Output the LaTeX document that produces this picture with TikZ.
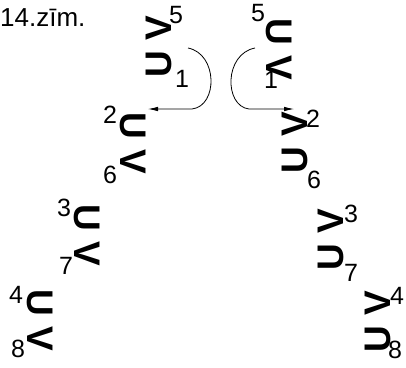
\documentclass[tikz,border=0pt]{standalone}
\usepackage{fontspec}
\setmainfont{Liberation Sans}
\usetikzlibrary{arrows.meta,positioning}

\tikzset{
  pair/.style={font=\fontsize{37}{40}\selectfont\bfseries, inner sep=0pt},
  idx/.style={font=\fontsize{25}{28}\selectfont, inner sep=0pt},
  turn/.style={->, >={Latex[length=10pt,width=4.5pt]}, line width=0.8pt}
}

\begin{document}
\begin{tikzpicture}[x=1pt,y=-1pt]
    \useasboundingbox (0,0) rectangle (406,367);
    \node[font=\fontsize{26}{30}\selectfont, anchor=base west, inner sep=0pt] (title) at (0, 26) {14.zīm.};

    % top pair
    \node[pair, rotate=90] (tl) at (159, 47) {U V};
    \node[idx] (tl5) at (176, 15) {5};
    \node[idx] (tl1) at (182, 79) {1};
    \node[pair, rotate=-90] (tr) at (279, 49) {U V};
    \node[idx] (tr5) at (258, 13) {5};
    \node[idx] (tr1) at (271, 80) {1};

    % left branch
    \node[pair, rotate=-90] (l2) at (133, 143) {U V};
    \node[idx] (l2a) at (110, 115) {2};
    \node[idx] (l2b) at (110, 175) {6};
    \node[pair, rotate=-90] (l3) at (87, 235) {U V};
    \node[idx] (l3a) at (64, 208) {3};
    \node[idx] (l3b) at (66, 266) {7};
    \node[pair, rotate=-90] (l4) at (40, 320) {U V};
    \node[idx] (l4a) at (16, 295) {4};
    \node[idx] (l4b) at (18, 349) {8};

    % right branch
    \node[pair, rotate=90] (r2) at (295, 143) {U V};
    \node[idx] (r2a) at (313, 119) {2};
    \node[idx] (r2b) at (314, 180) {6};
    \node[pair, rotate=90] (r3) at (331, 240) {U V};
    \node[idx] (r3a) at (351, 214) {3};
    \node[idx] (r3b) at (351, 273) {7};
    \node[pair, rotate=90] (r4) at (378, 322) {U V};
    \node[idx] (r4a) at (397, 296) {4};
    \node[idx] (r4b) at (395, 350) {8};

    % turning arrows
    \coordinate (la) at (188, 48);
    \coordinate (lb) at (192, 109);
    \coordinate (lc) at (148, 109);
    \coordinate (ra) at (255, 48);
    \coordinate (rb) at (249, 109);
    \coordinate (rc) at (294, 109);
    \draw[turn] (la) .. controls (218, 54) and (218, 106) .. (lb) -- (lc);
    \draw[turn] (ra) .. controls (224, 54) and (224, 106) .. (rb) -- (rc);
\end{tikzpicture}
\end{document}
